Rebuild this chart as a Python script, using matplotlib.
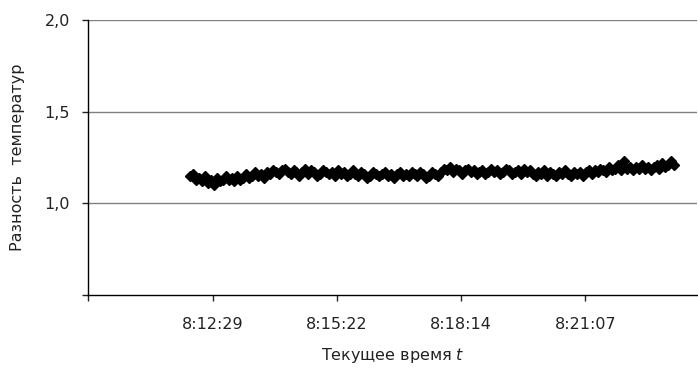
import matplotlib
matplotlib.use("Agg")
import matplotlib.pyplot as plt
import numpy as np

# sampling: first reading and interval (seconds)
t_start = "8:11:58"
t_step = 4.1

# temperature difference readings
temp_diff = [
    1.15, 1.16, 1.13, 1.14, 1.12, 1.15, 1.11, 1.13, 1.10, 1.14, 1.12, 1.13, 1.15,
    1.13, 1.14, 1.12, 1.15, 1.13, 1.14, 1.16, 1.14, 1.15, 1.17, 1.15, 1.16, 1.14, 1.17, 1.16, 1.18, 1.17,
    1.16, 1.18, 1.19, 1.17, 1.16, 1.18, 1.17, 1.15, 1.17, 1.19, 1.16, 1.18, 1.17, 1.15, 1.16, 1.18, 1.17,
    1.16, 1.17, 1.15, 1.18, 1.16, 1.17, 1.15, 1.16, 1.18, 1.16, 1.15, 1.17, 1.16, 1.14, 1.15, 1.17, 1.16,
    1.15, 1.16, 1.17, 1.15, 1.16, 1.14, 1.16, 1.17, 1.15, 1.16, 1.15, 1.17, 1.16, 1.15, 1.17, 1.16, 1.14,
    1.15, 1.17, 1.16, 1.15,
    1.17, 1.19, 1.18, 1.20, 1.17, 1.19, 1.18, 1.16, 1.18, 1.19, 1.17, 1.18, 1.16, 1.17,
    1.18, 1.16, 1.17, 1.19, 1.17, 1.18, 1.16, 1.17, 1.19, 1.18, 1.16, 1.17, 1.18, 1.16, 1.19, 1.17,
    1.18, 1.16, 1.15, 1.17, 1.16, 1.18, 1.15, 1.17, 1.16, 1.15, 1.17, 1.16, 1.18, 1.16, 1.15, 1.17,
    1.16, 1.17, 1.15,
    1.17, 1.18, 1.16, 1.18, 1.17, 1.19, 1.18, 1.17, 1.20, 1.18, 1.19, 1.21, 1.18, 1.23, 1.19, 1.20,
    1.18, 1.20, 1.19, 1.21, 1.19, 1.20, 1.18, 1.20, 1.21, 1.19, 1.22, 1.20, 1.21, 1.23, 1.21,
]

x_ticks = ["8:09:36", "8:12:29", "8:15:22", "8:18:14", "8:21:07"]
x_labels = ["", "8:12:29", "8:15:22", "8:18:14", "8:21:07"]
x_range = ["8:09:36", "8:23:42"]
y_ticks = [0.5, 1.0, 1.5, 2.0]
y_labels = ["", "1,0", "1,5", "2,0"]


def to_sec(s):
    h, m, sec = (int(p) for p in s.split(":"))
    return h * 3600 + m * 60 + sec


t = to_sec(t_start) + t_step * np.arange(len(temp_diff))

plt.rcParams['font.family'] = ['DejaVu Sans']
plt.rcParams['mathtext.fontset'] = 'dejavusans'

fig = plt.figure(figsize=(6.98, 3.69), dpi=100)
ax = fig.add_axes([88 / 698, 74 / 369, 609 / 698, 275 / 369])

for y in [1.0, 1.5, 2.0]:
    ax.axhline(y, color='#808080', linewidth=1.0, zorder=1)

ax.plot(t, temp_diff, linestyle='none', marker='D', markersize=5.5,
        color='black', zorder=3)

ax.set_xlim(to_sec(x_range[0]), to_sec(x_range[1]))
ax.set_ylim(0.5, 2.0)
ax.set_xticks([to_sec(s) for s in x_ticks])
ax.set_xticklabels(x_labels)
ax.set_yticks(y_ticks)
ax.set_yticklabels(y_labels)

for side in ['top', 'right']:
    ax.spines[side].set_visible(False)
for side in ['left', 'bottom']:
    ax.spines[side].set_color('black')
    ax.spines[side].set_linewidth(1.0)

ax.tick_params(axis='both', direction='out', length=4, width=1.0,
               labelsize=11.5, colors='#222222')
ax.tick_params(axis='x', pad=12)
ax.tick_params(axis='y', pad=9)

ax.set_xlabel("Текущее время $t$", fontsize=11.5, color='#222222', labelpad=10)
ax.set_ylabel("Разность  температур", fontsize=11.5, color='#222222', labelpad=14)

fig.savefig('out.png', dpi=100)
